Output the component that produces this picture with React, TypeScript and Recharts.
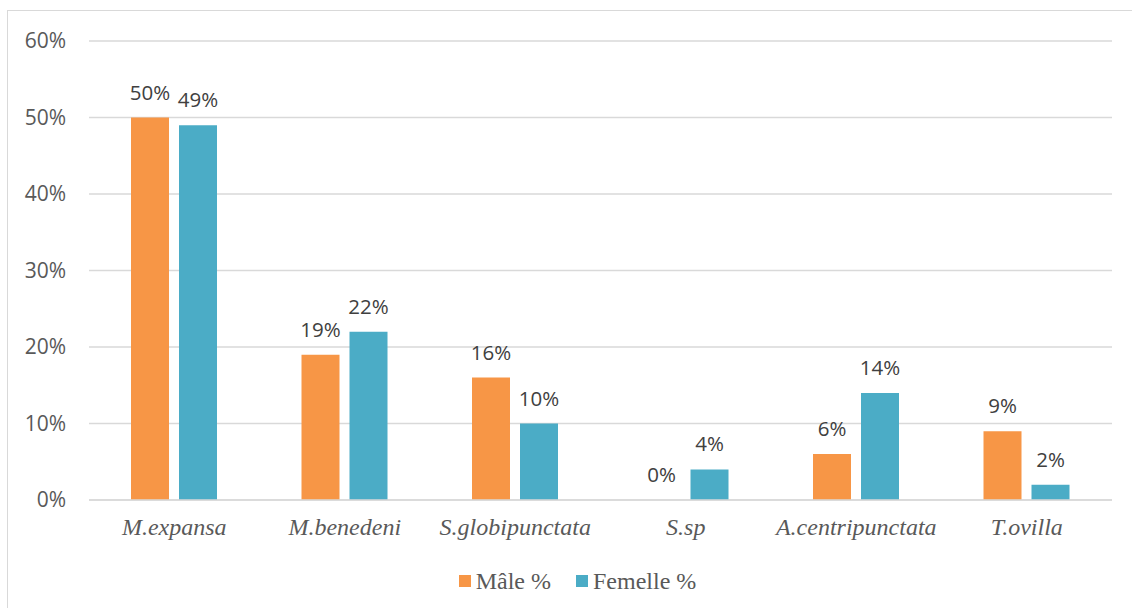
import React from "react";
import { BarChart, Bar, XAxis, YAxis, CartesianGrid, Legend, LabelList } from "recharts";

// Parasite species and their share among male / female hosts (%)
const species = ["M.expansa", "M.benedeni", "S.globipunctata", "S.sp", "A.centripunctata", "T.ovilla"];
const malePct = [50, 19, 16, 0, 6, 9];
const femalePct = [49, 22, 10, 4, 14, 2];
const yTicks = [0, 10, 20, 30, 40, 50, 60];

const ORANGE = "#F79646";
const TEAL = "#4BACC6";

const data = species.map((name, i) => ({ name, male: malePct[i], female: femalePct[i] }));

const pct = (v: number) => `${v}%`;

const legendItems = [
  { label: "Mâle %", color: ORANGE },
  { label: "Femelle %", color: TEAL },
];

const renderLegend = () => (
  <div style={{ display: "flex", justifyContent: "center", alignItems: "center", paddingLeft: 43, paddingTop: 7 }}>
    {legendItems.map((it, i) => (
      <div key={it.label} style={{ display: "flex", alignItems: "center", marginRight: i === 0 ? 25 : 0 }}>
        <span style={{ display: "inline-block", width: 12, height: 12, background: it.color, marginRight: 5 }} />
        <span style={{ fontFamily: "'Liberation Serif', serif", fontSize: 24, color: "#595959", lineHeight: "28px" }}>{it.label}</span>
      </div>
    ))}
  </div>
);

const labelStyle = { fontFamily: "'Open Sans', sans-serif", fontSize: 20.5, fill: "#404040" };

export default function App() {
  return (
    <div style={{ position: "absolute", left: 0, top: 0, width: 1132, height: 608, background: "#fff", overflow: "hidden" }}>
      <div style={{ position: "absolute", left: 7, top: 10, width: 1140, height: 620, border: "1px solid #d9d9d9", boxSizing: "border-box" }} />
      <BarChart
        width={1132}
        height={608}
        data={data}
        margin={{ top: 41, right: 20, left: 0, bottom: 0 }}
        barSize={38}
        barGap={10}
      >
        <CartesianGrid vertical={false} stroke="#d9d9d9" strokeWidth={1.5} />
        <XAxis
          dataKey="name"
          height={60}
          axisLine={{ stroke: "#d9d9d9", strokeWidth: 1.5 }}
          tickLine={false}
          tickSize={0}
          tickMargin={18}
          tick={{ fontFamily: "'Liberation Serif', serif", fontStyle: "italic", fontSize: 24, fill: "#595959" }}
        />
        <YAxis
          width={89}
          domain={[0, 60]}
          ticks={yTicks}
          tickFormatter={pct}
          axisLine={false}
          tickLine={false}
          tickSize={0}
          tickMargin={23}
          tick={{ fontFamily: "'Open Sans', sans-serif", fontSize: 21, fill: "#595959" }}
        />
        <Legend verticalAlign="bottom" height={48} content={renderLegend} />
        <Bar dataKey="male" fill={ORANGE} minPointSize={0.01} isAnimationActive={false}>
          <LabelList dataKey="male" position="top" offset={18} formatter={pct} style={labelStyle} />
        </Bar>
        <Bar dataKey="female" fill={TEAL} minPointSize={0.01} isAnimationActive={false}>
          <LabelList dataKey="female" position="top" offset={18} formatter={pct} style={labelStyle} />
        </Bar>
      </BarChart>
    </div>
  );
}
